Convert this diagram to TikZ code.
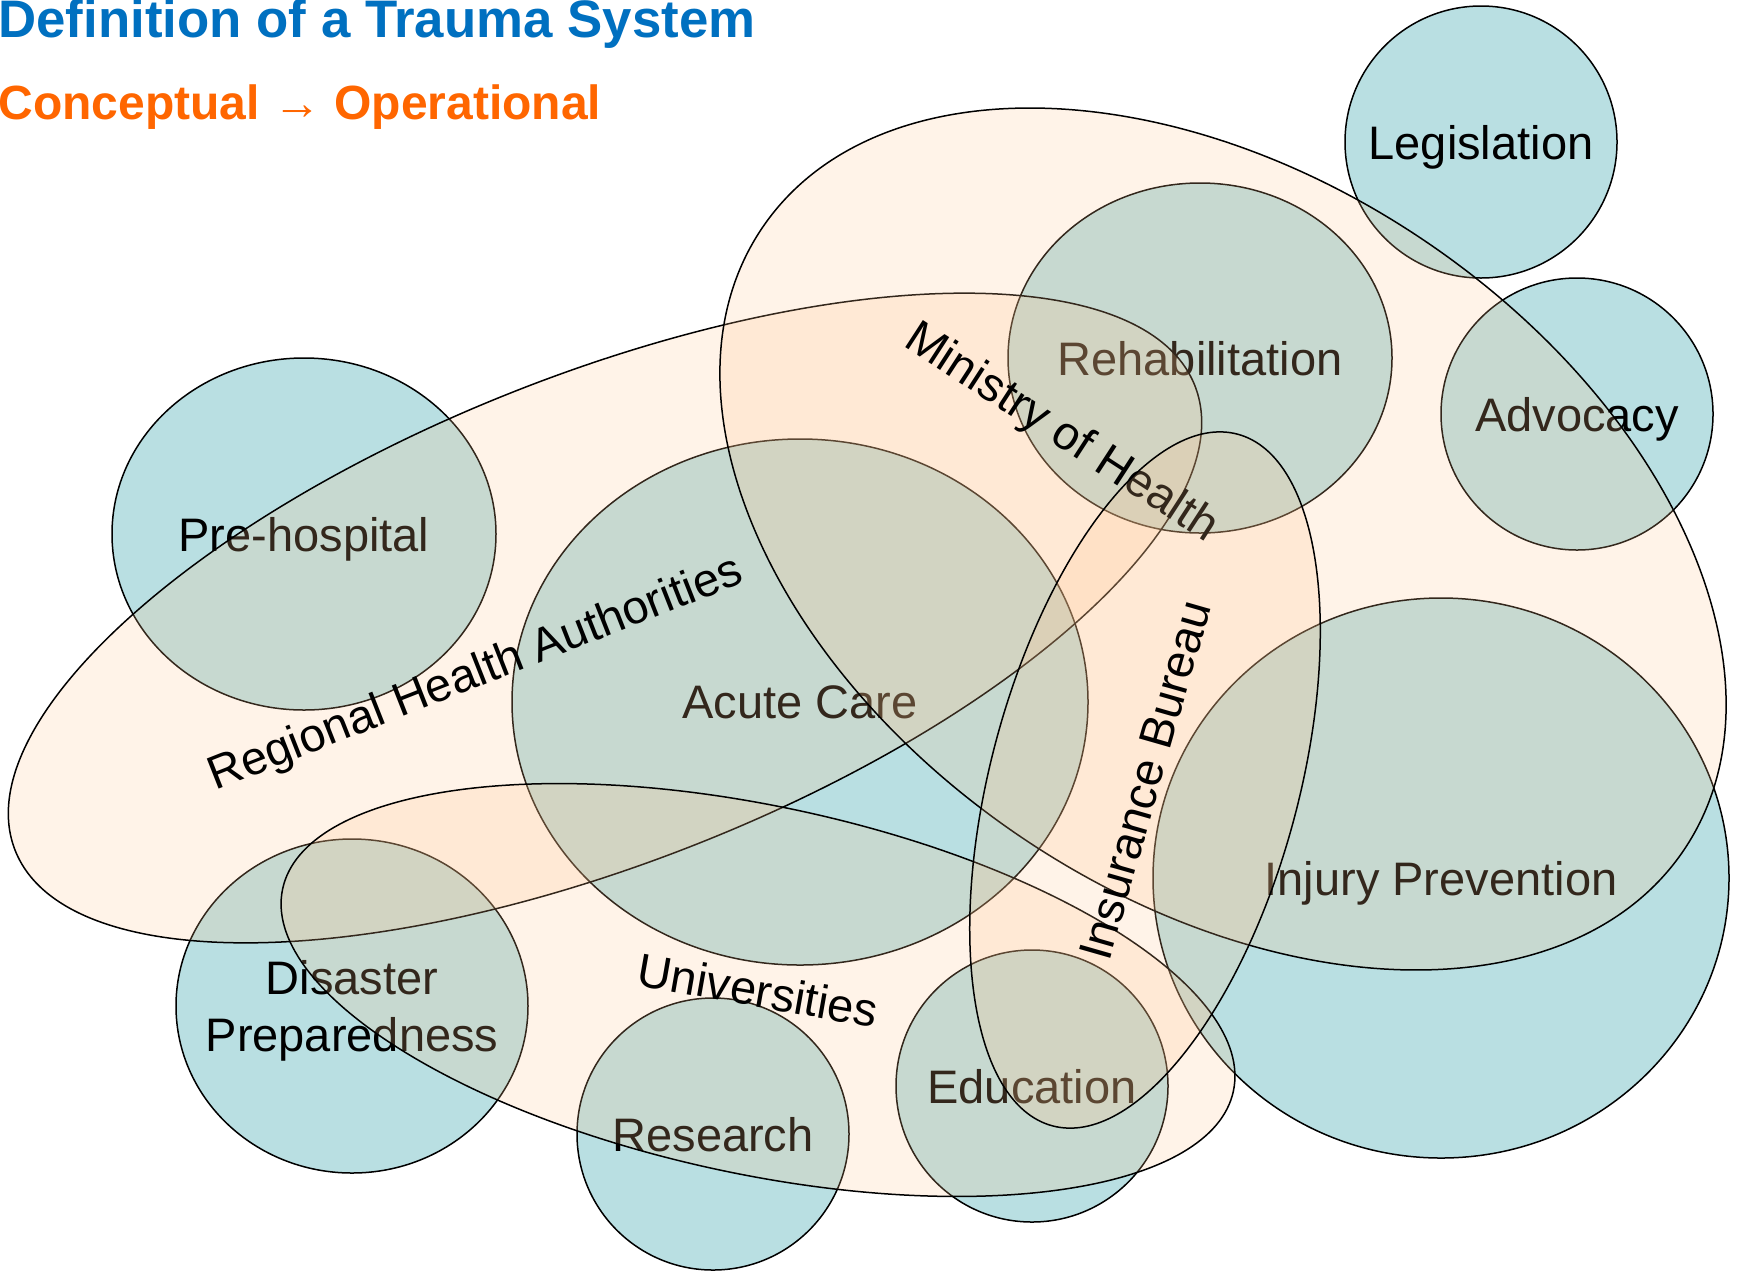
\documentclass[tikz,border=0pt]{standalone}
\usepackage{fontspec}
\setmainfont{Liberation Sans}
\usetikzlibrary{shapes.geometric}
\definecolor{areafill}{RGB}{185,223,226}
\definecolor{groupfill}{RGB}{255,195,140}
\definecolor{titleblue}{RGB}{0,112,192}
\definecolor{titleorange}{RGB}{255,102,0}
\begin{document}
\begin{tikzpicture}[
    x=0.5pt, y=-0.5pt,
    every node/.append style={font=\fontsize{23.5}{28.8}\selectfont},
    every label/.append style={text depth=0pt},
    area/.style={ellipse, draw, line width=0.75pt, fill=areafill, inner sep=0pt},
    group/.style={ellipse, draw, line width=0.75pt, fill=groupfill, fill opacity=0.2, inner sep=0pt},
    heading/.style={anchor=base west, inner sep=0pt, font=\fontsize{#1}{30}\selectfont\bfseries}
  ]
    \fill[white] (0,0) rectangle (1738,1275);
    \useasboundingbox (0,0) rectangle (1738,1275);
    \node[heading=26.4, text=titleblue] (title) at (-2,37) {Definition of a Trauma System};
    \node[heading=24, text=titleorange] (subtitle) at (-2,119) {Conceptual → Operational};
    % system components
    \node[area, minimum width=136pt, minimum height=136pt, label=center:Legislation] (legis) at (1481,142) {};
    \node[area, minimum width=136pt, minimum height=136pt, label=center:Advocacy] (advoc) at (1577,414) {};
    \node[area, minimum width=192pt, minimum height=175pt, label=center:Rehabilitation] (rehab) at (1200,358) {};
    \node[area, minimum width=192pt, minimum height=176pt, label=center:Pre-hospital] (prehosp) at (304,534) {};
    \node[area, minimum width=288pt, minimum height=263pt, label=center:Acute Care] (acute) at (800,702) {};
    \node[area, minimum width=288pt, minimum height=280pt, label=center:Injury Prevention] (injury) at (1441,878) {};
    \node[area, minimum width=176pt, minimum height=167pt, label={[align=center]center:Disaster\\Preparedness}] (disaster) at (352,1006) {};
    \node[area, minimum width=136pt, minimum height=136pt, label=center:Research] (research) at (713,1134) {};
    \node[area, minimum width=136pt, minimum height=136pt, label=center:Education] (educ) at (1032,1086) {};
    % stakeholders
    \node[group, rotate=21.5, minimum width=634pt, minimum height=244pt] (rha) at (605,618) {};
    \node[rotate=21.5] (rhalabel) at (476,675) {Regional Health Authorities};
    \node[group, rotate=-12, minimum width=486pt, minimum height=184pt] (univ) at (758,990) {};
    \node[rotate=-10] (univlabel) at (univ) {Universities};
    \node[group, rotate=-34, minimum width=556pt, minimum height=360pt] (moh) at (1223,539) {};
    \node[rotate=-33] (mohlabel) at (1061,434) {Ministry of Health};
    \node[group, rotate=75, minimum width=358pt, minimum height=154pt] (insur) at (1145,780) {};
    \node[rotate=74] (insurlabel) at (insur) {Insurance Bureau};
\end{tikzpicture}
\end{document}
